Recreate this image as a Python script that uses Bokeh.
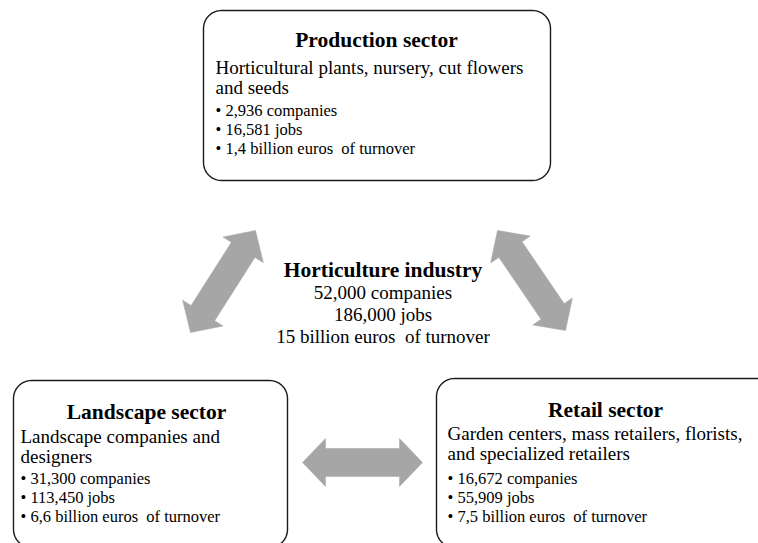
import numpy as np
from bokeh.plotting import figure
from bokeh.models import Range1d
from bokeh.core.properties import value
from bokeh.embed import file_html
from bokeh.resources import INLINE

# ---------------- data ----------------
sectors = ["Production sector", "Landscape sector", "Retail sector"]
descriptions = [
    ["Horticultural plants, nursery, cut flowers", "and seeds"],
    ["Landscape companies and", "designers"],
    ["Garden centers, mass retailers, florists,", "and specialized retailers"],
]
companies = ["2,936", "31,300", "16,672"]
jobs = ["16,581", "113,450", "55,909"]
turnover_bn = ["1,4", "6,6", "7,5"]

industry_title = "Horticulture industry"
industry_companies = "52,000"
industry_jobs = "186,000"
industry_turnover_bn = "15"

# ---------------- layout (page pixel coordinates) ----------------
FONT = value("Liberation Serif")
W, H = 758, 543
GAP = "\u00a0 "  # visible double space as in the original

p = figure(width=W, height=H, x_range=Range1d(0, W), y_range=Range1d(H, 0),
           output_backend="svg", toolbar_location=None, min_border=0,
           x_axis_location=None, y_axis_location=None)
p.grid.visible = False
p.outline_line_color = None
p.background_fill_color = "white"
p.border_fill_color = "white"


def rounded_rect(l, t, r, b, rad, n=16):
    xs, ys = [], []
    for cx, cy, a0 in [(r - rad, t + rad, -90), (r - rad, b - rad, 0),
                       (l + rad, b - rad, 90), (l + rad, t + rad, 180)]:
        th = np.radians(np.linspace(a0, a0 + 90, n))
        xs.extend(cx + rad * np.cos(th))
        ys.extend(cy + rad * np.sin(th))
    return xs, ys


def double_arrow(a, b, hl=23, hh=24, sh=14):
    a = np.array(a, float); b = np.array(b, float)
    u = (b - a) / np.linalg.norm(b - a)
    nrm = np.array([-u[1], u[0]])
    pts = [a, a + u * hl + nrm * hh, a + u * hl + nrm * sh, b - u * hl + nrm * sh,
           b - u * hl + nrm * hh, b, b - u * hl - nrm * hh, b - u * hl - nrm * sh,
           a + u * hl - nrm * sh, a + u * hl - nrm * hh]
    return [q[0] for q in pts], [q[1] for q in pts]


# arrows
for A, B in [((190, 332), (255, 230)), ((497, 230), (565, 330)), ((302, 462), (422, 462))]:
    xs, ys = double_arrow(A, B)
    p.patch(xs, ys, fill_color="#a6a6a6", line_color="#a6a6a6", line_width=0.5)

# boxes: (left, top, right, bottom), title center x, title baseline, text left, body baseline
boxes = [
    dict(box=(203, 10, 550, 180), tx=376, ty=39, lx=215, by=67, bx=215, bu=110),
    dict(box=(13, 380, 287, 547), tx=146, ty=411, lx=20, by=436, bx=20, bu=478),
    dict(box=(436, 378, 800, 547), tx=605, ty=409, lx=447, by=433, bx=447, bu=478),
]
LINE = 19.5
BLINE = 19

for i, bd in enumerate(boxes):
    l, t, r, b = bd["box"]
    xs, ys = rounded_rect(l, t, r, b, 18)
    p.patch(xs, ys, fill_color="white", line_color="#1a1a1a", line_width=1.4)
    p.text(x=[bd["tx"]], y=[bd["ty"]], text=[sectors[i]], text_font=FONT,
           text_font_size="21.5px", text_font_style="bold", text_align="center",
           text_baseline="alphabetic", text_color="black")
    desc = descriptions[i]
    p.text(x=[bd["lx"]] * len(desc), y=[bd["by"] + k * LINE for k in range(len(desc))],
           text=desc, text_font=FONT, text_font_size="19px", text_align="left",
           text_baseline="alphabetic", text_color="black")
    bullets = ["\u2022 " + companies[i] + " companies",
               "\u2022 " + jobs[i] + " jobs",
               "\u2022 " + turnover_bn[i] + " billion euros" + GAP + "of turnover"]
    p.text(x=[bd["bx"]] * 3, y=[bd["bu"] + k * BLINE for k in range(3)],
           text=bullets, text_font=FONT, text_font_size="16.5px", text_align="left",
           text_baseline="alphabetic", text_color="black")

# center text
p.text(x=[382.5], y=[269], text=[industry_title], text_font=FONT, text_font_size="21.5px",
       text_font_style="bold", text_align="center", text_baseline="alphabetic",
       text_color="black")
center_lines = [industry_companies + " companies", industry_jobs + " jobs",
                industry_turnover_bn + " billion euros" + GAP + "of turnover"]
p.text(x=[382.5] * 3, y=[292, 314, 336], text=center_lines, text_font=FONT,
       text_font_size="19px", text_align="center", text_baseline="alphabetic",
       text_color="black")

open("out.html", "w").write(file_html(p, INLINE))
